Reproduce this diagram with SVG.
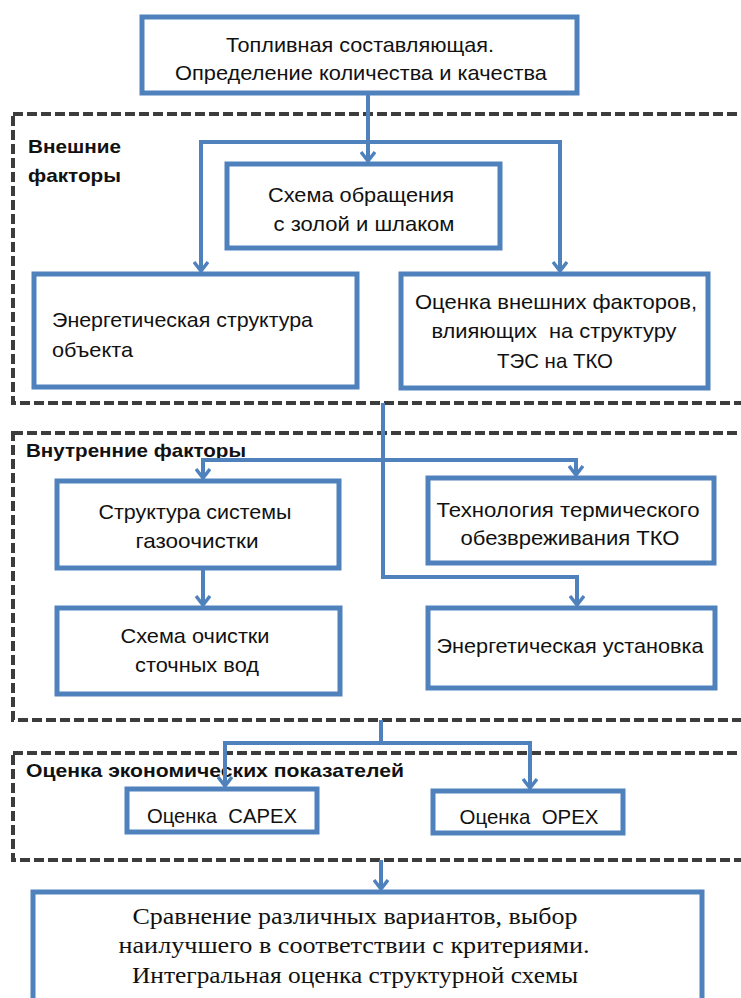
<svg xmlns="http://www.w3.org/2000/svg" width="741" height="998" viewBox="0 0 741 998">
<style>
.box{fill:#ffffff;stroke:#4f81bd;stroke-width:5}
.grp{fill:none;stroke:#3c3c3c;stroke-width:4;stroke-dasharray:10 4}
.con{fill:none;stroke:#4f81bd;stroke-width:4}
.t{font-family:"Liberation Sans",Arial,sans-serif;font-size:21px;fill:#111}
.b{font-family:"Liberation Sans",Arial,sans-serif;font-size:19px;font-weight:bold;fill:#111}
.s{font-family:"Liberation Serif","Times New Roman",serif;font-size:23px;fill:#111}
</style>
<defs>
<marker id="arr" markerUnits="userSpaceOnUse" markerWidth="16" markerHeight="16" viewBox="0 0 16 16" refX="14" refY="8" orient="auto">
<path d="M5,1 L14,8 L5,15" fill="none" stroke="#4f81bd" stroke-width="3.5"/>
</marker>
</defs>
<rect width="741" height="998" fill="#ffffff"/>
<g id="groups">
<rect class="grp" x="13" y="114" width="760" height="289"/>
<rect class="grp" x="13" y="433" width="760" height="287"/>
<rect class="grp" x="13" y="753" width="760" height="107"/>
<text class="b" x="28" y="153" textLength="93" lengthAdjust="spacingAndGlyphs">Внешние</text>
<text class="b" x="28" y="182" textLength="93" lengthAdjust="spacingAndGlyphs">факторы</text>
<text class="b" x="26" y="457" textLength="220" lengthAdjust="spacingAndGlyphs">Внутренние факторы</text>
<text class="b" x="26" y="777" textLength="378" lengthAdjust="spacingAndGlyphs">Оценка экономических показателей</text>
</g>
<g id="connectors">
<path class="con" d="M368,93 V161" marker-end="url(#arr)"/>
<path class="con" d="M368,142 H201 V271" marker-end="url(#arr)"/>
<path class="con" d="M368,142 H560 V271" marker-end="url(#arr)"/>
<path class="con" d="M383,403 V577 H577 V605" marker-end="url(#arr)"/>
<path class="con" d="M383,460 H203 V478" marker-end="url(#arr)"/>
<path class="con" d="M383,460 H576 V475" marker-end="url(#arr)"/>
<path class="con" d="M203,568 V605" marker-end="url(#arr)"/>
<path class="con" d="M381,720 V743" />
<path class="con" d="M381,743 H225 V786" marker-end="url(#arr)"/>
<path class="con" d="M381,743 H530 V788" marker-end="url(#arr)"/>
<path class="con" d="M381,860 V889" marker-end="url(#arr)"/>
</g>
<g id="n1">
<rect class="box" x="142" y="17" width="435" height="76"/>
<text class="t" x="360" y="52" text-anchor="middle" textLength="268" lengthAdjust="spacingAndGlyphs">Топливная составляющая.</text>
<text class="t" x="361" y="80" text-anchor="middle" textLength="372" lengthAdjust="spacingAndGlyphs">Определение количества и качества</text>
</g>
<g id="n2">
<rect class="box" x="227" y="164" width="273" height="84"/>
<text class="t" x="361" y="202" text-anchor="middle" textLength="186" lengthAdjust="spacingAndGlyphs">Схема обращения</text>
<text class="t" x="364" y="231" text-anchor="middle" textLength="181" lengthAdjust="spacingAndGlyphs">с золой и шлаком</text>
</g>
<g id="n3">
<rect class="box" x="34" y="274" width="323" height="113"/>
<text class="t" x="52" y="327" textLength="261" lengthAdjust="spacingAndGlyphs">Энергетическая структура</text>
<text class="t" x="52" y="357" textLength="81" lengthAdjust="spacingAndGlyphs">объекта</text>
</g>
<g id="n4">
<rect class="box" x="401" y="274" width="307" height="114"/>
<text class="t" x="556" y="309" text-anchor="middle" textLength="282" lengthAdjust="spacingAndGlyphs">Оценка внешних факторов,</text>
<text class="t" x="554" y="338" text-anchor="middle" textLength="245" lengthAdjust="spacingAndGlyphs" xml:space="preserve">влияющих  на структуру</text>
<text class="t" x="555" y="368" text-anchor="middle" textLength="116" lengthAdjust="spacingAndGlyphs">ТЭС на ТКО</text>
</g>
<g id="n5">
<rect class="box" x="57" y="481" width="282" height="87"/>
<text class="t" x="195" y="519" text-anchor="middle" textLength="193" lengthAdjust="spacingAndGlyphs">Структура системы</text>
<text class="t" x="197" y="548" text-anchor="middle" textLength="123" lengthAdjust="spacingAndGlyphs">газоочистки</text>
</g>
<g id="n6">
<rect class="box" x="57" y="608" width="283" height="86"/>
<text class="t" x="195" y="643" text-anchor="middle" textLength="149" lengthAdjust="spacingAndGlyphs">Схема очистки</text>
<text class="t" x="197" y="672" text-anchor="middle" textLength="124" lengthAdjust="spacingAndGlyphs">сточных вод</text>
</g>
<g id="n7">
<rect class="box" x="428" y="478" width="286" height="85"/>
<text class="t" x="568" y="517" text-anchor="middle" textLength="263" lengthAdjust="spacingAndGlyphs">Технология термического</text>
<text class="t" x="570" y="545" text-anchor="middle" textLength="219" lengthAdjust="spacingAndGlyphs">обезвреживания ТКО</text>
</g>
<g id="n8">
<rect class="box" x="428" y="608" width="287" height="80"/>
<text class="t" x="570" y="653" text-anchor="middle" textLength="267" lengthAdjust="spacingAndGlyphs">Энергетическая установка</text>
</g>
<g id="n9">
<rect class="box" x="127" y="789" width="190" height="43"/>
<text class="t" x="222" y="823" text-anchor="middle" textLength="150" lengthAdjust="spacingAndGlyphs" xml:space="preserve">Оценка  CAPEX</text>
</g>
<g id="n10">
<rect class="box" x="433" y="791" width="190" height="42"/>
<text class="t" x="529" y="824" text-anchor="middle" textLength="139" lengthAdjust="spacingAndGlyphs" xml:space="preserve">Оценка  OPEX</text>
</g>
<g id="n11">
<rect class="box" x="33" y="892" width="669" height="130"/>
<text class="s" x="355" y="924" text-anchor="middle" textLength="445" lengthAdjust="spacingAndGlyphs">Сравнение различных вариантов, выбор</text>
<text class="s" x="354" y="953" text-anchor="middle" textLength="471" lengthAdjust="spacingAndGlyphs">наилучшего в соответствии с критериями.</text>
<text class="s" x="355" y="983" text-anchor="middle" textLength="446" lengthAdjust="spacingAndGlyphs">Интегральная оценка структурной схемы</text>
</g>
</svg>
